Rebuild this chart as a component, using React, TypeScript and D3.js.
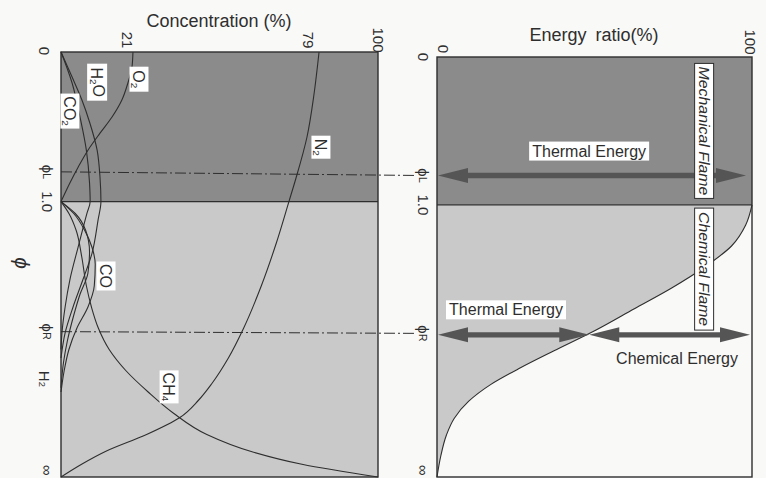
import React from "react";
import * as d3 from "d3";

// ---------- DATA ----------
// phi axis is schematic: positions along the axis on a 0..100 scale
const PHI_TICKS = [
  { key: "0", pos: 0 },
  { key: "phiL", pos: 28.2 },
  { key: "1.0", pos: 35.2 },
  { key: "phiR", pos: 65.8 },
  { key: "inf", pos: 100 },
];
const PHI_ONE = 35.2;
const PHI_L = 28.2;
const PHI_R = 65.8;
const H2_MARK = 76.9;
const CONC_TICKS = [0, 21, 79, 100];
const ENERGY_TICKS = [0, 100];

// species concentration (%) vs phi-axis position
const O2_T = [0, 3.5, 7.3, 11.3, 15.3, 19.1, 23.1, 27.1, 30.8, 35.2];
const O2_V = [22.7, 22.4, 21.1, 19.2, 16.1, 12.3, 8.5, 5.4, 2.8, 0];
const H2O_T = [0, 5.9, 11.3, 16.7, 23.1, 29.4, 35.2, 39.5, 47.3, 53.6, 60, 66.1, 72];
const H2O_V = [0, 3.5, 6.6, 9.1, 11.4, 12.3, 12.6, 11.7, 9.8, 6.9, 3.8, 1.3, 0];
const CO2_T = [0, 7.3, 15.3, 23.1, 30.8, 35.2, 37.9, 45.9, 53.6, 60, 66.1, 70];
const CO2_V = [0, 3.5, 6, 8, 9, 9.2, 8.2, 5.4, 2.8, 1.3, 0.3, 0];
const CO_T = [35.2, 38, 42, 46, 50, 55, 60, 65, 70, 75, 80];
const CO_V = [0, 4, 7.5, 9.8, 10.8, 10.5, 8.5, 5, 2.5, 1, 0];
const H2_T = [35.2, 38, 42, 47, 52, 57, 62, 68, 73, 79];
const H2_V = [0, 4.5, 7.8, 9, 8.5, 6, 4, 2, 0.8, 0];
const CH4_T = [35.2, 38, 42, 48, 55, 60, 65, 70, 75, 80, 85, 90, 94, 97, 100];
const CH4_V = [0, 2.5, 4.8, 6.5, 8, 9.6, 11.8, 15.2, 20.5, 27.5, 35.5, 46, 60, 76, 100];
const N2_T = [0, 10, 20, 30, 35.2, 45, 55, 65, 72, 78, 82, 86, 90, 94, 97, 100];
const N2_V = [81.4, 79.8, 77.6, 74, 71.9, 67.9, 63.2, 57.6, 52.8, 47.6, 43.3, 37.5, 27, 14, 6.5, 0];

// thermal energy share (%) in the chemical-flame region
const THERMAL_T = [35.2, 40, 45, 50, 55, 60, 65, 70, 74, 78, 82, 86, 90, 95, 100];
const THERMAL_V = [100, 98, 93.5, 85, 74.5, 62.5, 50.5, 37, 26.5, 17, 10, 5.5, 3, 1.2, 0];

const SERIES = [
  { name: "O2", t: O2_T, v: O2_V },
  { name: "H2O", t: H2O_T, v: H2O_V },
  { name: "CO2", t: CO2_T, v: CO2_V },
  { name: "CO", t: CO_T, v: CO_V },
  { name: "H2", t: H2_T, v: H2_V },
  { name: "CH4", t: CH4_T, v: CH4_V },
  { name: "N2", t: N2_T, v: N2_V },
];

// ---------- LAYOUT ----------
const W = 766;
const H = 478;
const FONT = "'Liberation Sans', Arial, Helvetica, sans-serif";
const INK = "#2e2e2e";
const DARK = "#8b8b8b";
const LIGHT = "#c9c9c9";
const BG = "#f9f9f8";
const ARROW = "#555555";

const xL = d3.scaleLinear().domain([0, 100]).range([61, 378]);
const yL = d3.scaleLinear().domain([0, 100]).range([52, 477]);
const xR = d3.scaleLinear().domain([0, 100]).range([437, 752]);
const yR = d3.scaleLinear().domain([0, 100]).range([57, 477]);

type Pt = { t: number; v: number };
const zip = (t: number[], v: number[]): Pt[] => t.map((tt, i) => ({ t: tt, v: v[i] }));

const lineL = d3
  .line<Pt>()
  .x((d) => xL(d.v))
  .y((d) => yL(d.t))
  .curve(d3.curveMonotoneY);

const lineR = d3
  .line<Pt>()
  .x((d) => xR(d.v))
  .y((d) => yR(d.t))
  .curve(d3.curveMonotoneY);

const areaR = d3
  .area<Pt>()
  .y((d) => yR(d.t))
  .x0(() => xR(0))
  .x1((d) => xR(d.v))
  .curve(d3.curveMonotoneY);

function valueAt(ts: number[], vs: number[], t: number) {
  const i = Math.max(1, Math.min(ts.length - 1, d3.bisectLeft(ts, t)));
  const f = (t - ts[i - 1]) / (ts[i] - ts[i - 1]);
  return vs[i - 1] + f * (vs[i] - vs[i - 1]);
}

// rotated (top-to-bottom) text with optional box
function RText(props: {
  x: number;
  y: number;
  size?: number;
  italic?: boolean;
  box?: [number, number];
  border?: boolean;
  fit?: number;
  children: React.ReactNode;
}) {
  const { x, y, size = 14, italic, box, border, fit, children } = props;
  return (
    <g transform={`translate(${x},${y}) rotate(90)`}>
      {box && (
        <rect
          x={-box[0] / 2}
          y={-box[1] / 2}
          width={box[0]}
          height={box[1]}
          fill="#ffffff"
          stroke={border ? INK : "none"}
          strokeWidth={1}
        />
      )}
      <text
        textAnchor="middle"
        dominantBaseline="central"
        fontSize={size}
        fontStyle={italic ? "italic" : "normal"}
        fontFamily={FONT}
        fill={INK}
        textLength={fit}
        lengthAdjust={fit ? "spacingAndGlyphs" : undefined}
      >
        {children}
      </text>
    </g>
  );
}

function Chem({ s }: { s: string }) {
  const parts = s.match(/[A-Za-z]+|\d+/g) || [];
  return (
    <>
      {parts.map((p, i) =>
        /\d/.test(p) ? (
          <tspan key={i} fontSize="0.62em" dy="0.35em">
            {p}
          </tspan>
        ) : (
          <tspan key={i} dy={i > 0 && /\d/.test(parts[i - 1]) ? "-0.35em" : 0}>
            {p}
          </tspan>
        )
      )}
    </>
  );
}

function Arrow({ x1, x2, y }: { x1: number; x2: number; y: number }) {
  const hl = 30;
  const hh = 7.5;
  const sh = 2.7;
  const a = x1 + hl;
  const b = x2 - hl;
  const pts: [number, number][] = [
    [x1, y],
    [a, y - hh],
    [a, y - sh],
    [b, y - sh],
    [b, y - hh],
    [x2, y],
    [b, y + hh],
    [b, y + sh],
    [a, y + sh],
    [a, y + hh],
  ];
  return <polygon points={pts.map((p) => p.join(",")).join(" ")} fill={ARROW} />;
}

function PhiLabel({ k, x, y }: { k: string; x: number; y: number }) {
  if (k === "phiL" || k === "phiR")
    return (
      <RText x={x} y={y} size={15}>
        ϕ<tspan fontSize="0.72em">{k === "phiL" ? "L" : "R"}</tspan>
      </RText>
    );
  if (k === "inf")
    return (
      <RText x={x} y={y} size={15}>
        ∞
      </RText>
    );
  return (
    <RText x={x} y={y} size={15}>
      {k}
    </RText>
  );
}

export default function App() {
  const thermal = zip(THERMAL_T, THERMAL_V);
  const thermalAtR = valueAt(THERMAL_T, THERMAL_V, PHI_R);
  const yArrowL = yR(PHI_L);
  const yArrowR = yR(PHI_R) + 1.5;

  const curveLabels = [
    { s: "O2", v: 24.6, t: 6.4, box: [25, 19] as [number, number] },
    { s: "H2O", v: 11.4, t: 7.1, box: [37, 20] as [number, number] },
    { s: "CO2", v: 2.8, t: 13.9, box: [35, 19] as [number, number] },
    { s: "N2", v: 82, t: 22.4, box: [23, 19] as [number, number] },
    { s: "CO", v: 14.2, t: 52.7, box: [29, 19] as [number, number] },
    { s: "CH4", v: 34.1, t: 78.8, box: [33, 19] as [number, number] },
  ];

  const horizLabel = (txt: string, v: number, t: number, boxed: boolean) => (
    <g key={txt + t}>
      {boxed && <rect x={xR(v) - 60} y={yR(t) - 9.5} width={120} height={19} fill="#ffffff" />}
      <text
        x={xR(v)}
        y={yR(t)}
        textAnchor="middle"
        dominantBaseline="central"
        fontSize={16}
        fontFamily={FONT}
        fill={INK}
      >
        {txt}
      </text>
    </g>
  );

  return (
    <svg
      width={W}
      height={H}
      viewBox={`0 0 ${W} ${H}`}
      style={{ position: "absolute", left: 0, top: 0, background: BG }}
    >
      <rect x={0} y={0} width={W} height={H} fill={BG} />

      {/* ---- LEFT PANEL: concentration ---- */}
      <rect x={xL(0)} y={yL(0)} width={xL(100) - xL(0)} height={yL(PHI_ONE) - yL(0)} fill={DARK} />
      <rect x={xL(0)} y={yL(PHI_ONE)} width={xL(100) - xL(0)} height={yL(100) - yL(PHI_ONE)} fill={LIGHT} />
      <line x1={xL(0)} x2={xL(100)} y1={yL(PHI_ONE)} y2={yL(PHI_ONE)} stroke={INK} strokeWidth={1.3} />

      {SERIES.map((s) => (
        <path key={s.name} d={lineL(zip(s.t, s.v)) || ""} fill="none" stroke={INK} strokeWidth={1.1} />
      ))}

      {[PHI_L, PHI_R].map((p) => (
        <line
          key={p}
          x1={xL(0)}
          y1={yL(p)}
          x2={415}
          y2={yR(p)}
          stroke={INK}
          strokeWidth={1}
          strokeDasharray="11,3,2,3"
        />
      ))}

      <rect
        x={xL(0)}
        y={yL(0)}
        width={xL(100) - xL(0)}
        height={yL(100) - yL(0)}
        fill="none"
        stroke={INK}
        strokeWidth={1.4}
      />

      {curveLabels.map((l) => (
        <RText key={l.s} x={xL(l.v)} y={yL(l.t)} size={16} box={l.box}>
          <Chem s={l.s} />
        </RText>
      ))}
      <RText x={45} y={yL(H2_MARK)} size={15}>
        <Chem s="H2" />
      </RText>

      {CONC_TICKS.map((c) => (
        <RText key={c} x={c === 0 ? 44 : xL(c) + (c === 79 ? -3 : 0)} y={c === 0 ? 51 : 40} size={15}>
          {c}
        </RText>
      ))}
      <text x={219} y={21} textAnchor="middle" dominantBaseline="central" fontSize={18} fontFamily={FONT} fill={INK}>
        Concentration (%)
      </text>

      {PHI_TICKS.filter((d) => d.key !== "0").map((d) => (
        <PhiLabel key={d.key} k={d.key} x={47} y={d.key === "inf" ? yL(d.pos) - 7 : yL(d.pos)} />
      ))}
      <RText x={22} y={263} size={21} italic>
        ϕ
      </RText>

      {/* ---- RIGHT PANEL: energy ratio ---- */}
      <rect x={xR(0)} y={yR(0)} width={xR(100) - xR(0)} height={yR(PHI_ONE) - yR(0)} fill={DARK} />
      <path d={areaR(thermal) || ""} fill={LIGHT} />
      <path d={lineR(thermal) || ""} fill="none" stroke={INK} strokeWidth={1.1} />
      <line x1={xR(0)} x2={xR(100)} y1={yR(PHI_ONE)} y2={yR(PHI_ONE)} stroke={INK} strokeWidth={1.3} />
      <rect
        x={xR(0)}
        y={yR(0)}
        width={xR(100) - xR(0)}
        height={yR(100) - yR(0)}
        fill="none"
        stroke={INK}
        strokeWidth={1.4}
      />

      <Arrow x1={xR(0) + 1} x2={xR(100) - 6} y={yArrowL} />
      <Arrow x1={xR(0) + 1} x2={xR(thermalAtR)} y={yArrowR} />
      <Arrow x1={xR(thermalAtR)} x2={xR(100) - 2} y={yArrowR} />

      <RText x={xR(84.8)} y={yR(17.6)} size={15} italic box={[135, 19]} border fit={129}>
        Mechanical Flame
      </RText>
      <RText x={xR(84.8)} y={yR(50.5)} size={15} italic box={[122, 19]} border fit={114}>
        Chemical Flame
      </RText>

      {horizLabel("Thermal Energy", 48.3, 22.4, true)}
      {horizLabel("Thermal Energy", 21.9, 60.2, true)}
      {horizLabel("Chemical Energy", 76.2, 71.7, false)}

      {ENERGY_TICKS.map((e) => (
        <RText key={e} x={e === 0 ? xR(e) + 6 : xR(e) - 2} y={e === 0 ? 49 : 42} size={15}>
          {e}
        </RText>
      ))}
      <text
        x={594}
        y={35}
        textAnchor="middle"
        dominantBaseline="central"
        fontSize={18}
        fontFamily={FONT}
        fill={INK}
        wordSpacing={4}
      >
        Energy ratio(%)
      </text>
      {PHI_TICKS.map((d) => (
        <PhiLabel key={d.key} k={d.key} x={423} y={d.key === "inf" ? yR(d.pos) - 7 : yR(d.pos)} />
      ))}
    </svg>
  );
}
